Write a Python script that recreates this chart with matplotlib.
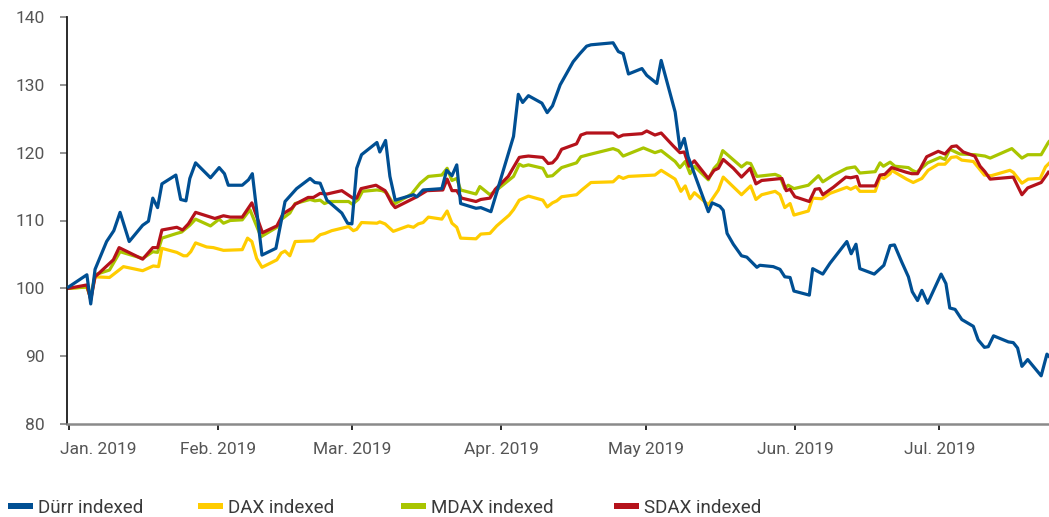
import numpy as np
import pandas as pd
import matplotlib
matplotlib.use("Agg")
import matplotlib.pyplot as plt
from matplotlib.patches import Rectangle
from matplotlib.transforms import ScaledTranslation

plt.rcParams['font.family'] = ['Roboto', 'DejaVu Sans']

# ---- data: days after 2019-01-01 and indexed values ----
durr_days = [0.0, 3.8, 4.6, 5.5, 7.9, 9.4, 10.7, 12.6, 15.4, 16.6, 17.5, 18.5, 19.4, 22.3, 23.3, 24.4, 25.2, 26.4,
             29.5, 31.3, 32.4, 33.2, 36.1, 37.4, 38.2, 40.2, 43.1, 45.0, 47.4, 50.2, 51.2, 52.3, 53.7, 56.8, 58.0,
             58.9, 59.9, 60.9, 64.1, 64.7, 65.9, 66.8, 67.9, 71.7, 72.4, 73.7, 77.6, 78.6, 79.7, 80.7, 81.5, 84.7,
             85.7, 87.8, 92.5, 93.5, 94.4, 95.6, 98.4, 99.5, 100.6, 102.2, 104.9, 106.3, 107.7, 108.6, 113.2, 114.3,
             115.3, 116.4, 119.2, 120.2, 122.3, 123.2, 126.1, 127.1, 128.0, 128.8, 133.0, 133.8, 135.4, 136.1,
             136.9, 138.2, 139.9, 141.0, 143.1, 143.7, 146.5, 147.9, 148.9, 150.0, 150.8, 154.0, 154.7, 156.8,
             158.3, 161.8, 162.7, 163.7, 164.5, 167.5, 169.5, 170.8, 171.7, 173.2, 174.6, 175.4, 176.5, 177.4,
             178.6, 181.4, 182.4, 183.2, 184.3, 185.7, 188.1, 189.1, 190.4, 191.2, 192.3, 195.4, 196.4, 197.3,
             198.2, 199.4, 202.2, 203.4, 203.8]
durr_vals = [100.2, 102.0, 97.7, 102.8, 106.9, 108.5, 111.2, 106.9, 109.3, 109.9, 113.3, 111.9, 115.4, 116.7, 113.1,
             112.9, 116.2, 118.5, 116.3, 117.8, 116.9, 115.2, 115.2, 116.0, 116.9, 104.9, 105.9, 112.8, 114.7, 116.2,
             115.6, 115.5, 113.0, 111.1, 109.6, 109.5, 117.7, 119.7, 121.5, 120.1, 121.8, 116.5, 113.0, 113.8, 113.5,
             114.5, 114.7, 117.4, 116.6, 118.2, 112.5, 111.8, 111.9, 111.3, 122.4, 128.6, 127.4, 128.4, 127.3, 125.9,
             126.9, 130.0, 133.4, 134.6, 135.7, 135.9, 136.2, 134.9, 134.6, 131.6, 132.4, 131.4, 130.2, 133.6, 126.0,
             120.6, 122.1, 119.4, 111.3, 112.6, 112.1, 111.5, 108.1, 106.5, 104.8, 104.6, 103.1, 103.4, 103.2, 102.8,
             101.7, 101.6, 99.6, 99.0, 102.9, 102.1, 103.7, 106.9, 105.1, 106.5, 102.9, 102.1, 103.4, 106.3, 106.4,
             103.9, 101.7, 99.5, 98.2, 99.7, 97.8, 102.1, 100.7, 97.1, 96.9, 95.4, 94.4, 92.4, 91.3, 91.4, 93.0,
             92.1, 92.0, 91.2, 88.5, 89.5, 87.1, 90.3, 90.0]

dax_days = [0.0, 3.8, 4.6, 5.5, 8.5, 11.4, 15.4, 17.6, 18.7, 19.4, 22.5, 23.9, 24.6, 25.4, 26.4, 28.7, 30.1, 32.2,
            36.1, 37.2, 38.1, 39.1, 40.2, 43.3, 44.2, 45.0, 46.0, 47.1, 50.9, 52.3, 53.3, 54.7, 58.2, 59.2, 59.9,
            60.9, 64.1, 64.7, 65.8, 67.5, 70.6, 71.7, 72.7, 73.7, 74.8, 77.6, 78.7, 79.7, 80.7, 81.5, 84.7, 85.7,
            87.6, 89.0, 91.6, 92.5, 93.7, 95.6, 98.6, 99.5, 100.6, 101.5, 102.5, 105.6, 106.7, 108.6, 113.2, 114.4,
            115.3, 116.4, 121.9, 123.2, 126.1, 127.3, 128.2, 129.2, 130.1, 133.0, 135.1, 136.1, 139.9, 141.8,
            142.9, 144.1, 146.9, 147.9, 148.9, 150.0, 150.8, 153.8, 154.7, 156.6, 158.3, 161.8, 162.6, 163.7,
            164.5, 167.7, 168.7, 169.5, 170.8, 171.1, 174.2, 175.6, 177.4, 178.7, 180.8, 182.2, 183.5, 184.6,
            185.7, 188.1, 190.4, 191.8, 195.7, 196.4, 198.2, 199.5, 202.0, 203.1, 203.8]
dax_vals = [100.0, 100.2, 98.8, 101.7, 101.6, 103.2, 102.6, 103.3, 103.2, 105.9, 105.3, 104.8, 104.8, 105.4, 106.7,
            106.1, 106.0, 105.6, 105.7, 107.4, 106.9, 104.4, 103.1, 104.2, 105.2, 105.5, 104.8, 106.9, 107.0, 107.9,
            108.1, 108.5, 109.1, 108.5, 108.7, 109.7, 109.6, 109.8, 109.5, 108.4, 109.2, 109.0, 109.5, 109.7, 110.5,
            110.2, 111.4, 109.6, 109.0, 107.4, 107.3, 108.0, 108.1, 109.2, 110.8, 111.6, 113.0, 113.6, 113.0, 112.0,
            112.6, 112.9, 113.5, 113.8, 114.5, 115.6, 115.7, 116.5, 116.2, 116.5, 116.7, 117.4, 116.1, 114.3, 115.1,
            113.2, 114.1, 112.3, 114.5, 116.4, 113.8, 115.1, 113.1, 113.8, 114.3, 113.8, 111.9, 112.5, 110.8, 111.4,
            113.3, 113.2, 114.0, 114.9, 114.6, 115.0, 114.3, 114.3, 116.4, 116.2, 116.9, 117.4, 116.1, 115.6, 116.2,
            117.4, 118.3, 118.3, 119.3, 119.4, 118.9, 118.7, 116.7, 116.6, 117.4, 117.1, 115.5, 116.1, 116.2, 117.9,
            118.4]

mdax_days = [0.0, 3.8, 4.6, 5.5, 8.5, 10.7, 15.4, 17.5, 18.5, 19.4, 22.5, 23.5, 25.2, 26.4, 29.5, 31.3, 32.2, 33.6,
             36.1, 37.7, 40.0, 43.3, 44.3, 46.0, 47.1, 50.2, 51.2, 52.3, 53.2, 54.3, 58.2, 59.0, 60.2, 61.1, 64.1,
             65.2, 66.1, 67.2, 67.9, 71.3, 73.1, 74.8, 77.6, 78.7, 79.7, 80.7, 81.5, 84.7, 85.5, 87.6, 89.0, 92.5,
             93.7, 94.5, 95.6, 98.6, 99.5, 100.6, 102.5, 105.6, 106.5, 108.1, 113.2, 114.3, 115.3, 119.5, 121.9,
             123.2, 126.1, 127.1, 128.2, 129.2, 130.1, 133.0, 134.2, 135.1, 136.0, 139.9, 141.0, 141.8, 143.1,
             146.9, 147.9, 148.9, 149.6, 150.8, 153.8, 155.9, 156.8, 159.0, 161.8, 163.5, 164.5, 167.7, 168.7,
             169.4, 170.8, 171.8, 174.6, 175.4, 176.3, 178.6, 181.2, 182.2, 183.2, 185.3, 188.4, 190.5, 191.6,
             196.1, 198.2, 199.4, 202.2, 203.6, 203.8]
mdax_vals = [100.0, 100.2, 98.5, 102.0, 102.7, 105.4, 104.4, 105.4, 105.3, 107.4, 108.1, 108.3, 109.3, 110.2, 109.2,
             110.2, 109.6, 110.0, 110.1, 111.6, 107.6, 109.0, 110.2, 111.1, 112.5, 113.1, 112.9, 113.0, 112.5, 112.8,
             112.8, 112.4, 113.1, 114.3, 114.5, 114.4, 114.1, 112.8, 112.5, 113.9, 115.5, 116.5, 116.7, 117.7, 115.9,
             116.2, 114.5, 113.9, 115.0, 113.8, 114.5, 116.5, 118.3, 118.0, 118.2, 117.7, 116.5, 116.6, 117.8, 118.5,
             119.4, 119.7, 120.6, 120.3, 119.5, 120.7, 120.0, 120.3, 118.7, 117.8, 118.7, 116.9, 118.0, 116.0, 117.7,
             118.4, 120.3, 117.9, 118.5, 118.4, 116.5, 116.8, 116.5, 114.7, 115.2, 114.7, 115.2, 116.6, 115.7, 116.7,
             117.7, 117.9, 117.0, 117.2, 118.5, 118.0, 118.6, 118.0, 117.8, 117.4, 117.1, 118.5, 119.3, 119.0, 120.5,
             119.8, 119.7, 119.5, 119.2, 120.6, 119.2, 119.7, 119.7, 121.4, 121.6]

sdax_days = [0.0, 3.8, 4.6, 5.5, 9.3, 10.5, 15.4, 17.5, 18.5, 19.4, 22.5, 23.7, 24.9, 26.4, 30.4, 32.2, 33.6, 36.1,
             38.1, 40.3, 43.3, 44.6, 46.4, 47.1, 49.8, 50.9, 52.3, 53.7, 56.8, 59.1, 59.9, 60.8, 63.9, 65.8, 67.2,
             67.9, 72.4, 74.5, 77.8, 78.7, 79.7, 80.7, 81.7, 84.7, 85.7, 87.6, 88.7, 91.4, 93.7, 94.5, 95.6, 98.6,
             99.7, 100.6, 101.5, 102.5, 105.6, 106.5, 107.7, 113.2, 114.3, 115.3, 119.2, 120.2, 121.9, 123.2, 125.7,
             127.1, 128.0, 129.0, 130.1, 133.0, 134.2, 135.1, 136.1, 138.2, 139.9, 141.7, 142.9, 144.1, 148.3,
             149.2, 150.0, 151.0, 154.0, 155.2, 156.1, 156.8, 159.0, 161.6, 162.6, 163.9, 164.5, 167.7, 168.7,
             169.7, 171.1, 174.2, 175.3, 176.5, 178.4, 180.8, 182.2, 183.6, 184.6, 186.0, 188.4, 189.5, 190.5,
             191.6, 196.4, 198.2, 199.4, 202.2, 203.7]
sdax_vals = [100.0, 100.5, 98.3, 101.7, 104.2, 106.0, 104.3, 106.0, 106.0, 108.6, 109.0, 108.6, 109.5, 111.2, 110.3,
             110.7, 110.5, 110.5, 112.6, 108.2, 109.2, 111.0, 111.8, 112.4, 113.4, 113.4, 114.0, 113.9, 114.4, 113.3,
             113.3, 114.7, 115.2, 114.4, 112.5, 111.9, 113.5, 114.4, 114.5, 116.1, 114.4, 114.4, 113.3, 112.8, 113.1,
             113.3, 114.6, 116.5, 119.3, 119.4, 119.5, 119.3, 118.4, 118.5, 119.2, 120.5, 121.3, 122.6, 122.9, 122.9,
             122.3, 122.6, 122.8, 123.2, 122.6, 122.9, 121.0, 120.0, 120.1, 118.0, 118.8, 116.2, 117.4, 117.7, 119.0,
             117.7, 116.4, 117.7, 115.4, 115.9, 116.2, 114.4, 114.6, 113.5, 112.8, 114.6, 114.7, 113.8, 114.9, 116.4,
             116.3, 116.5, 115.1, 115.1, 116.7, 116.8, 117.8, 117.1, 116.9, 116.9, 119.4, 120.2, 119.8, 120.9, 121.0,
             120.1, 119.5, 118.0, 117.2, 116.1, 116.4, 113.8, 114.8, 115.6, 117.1]

series_names = ["Dürr indexed", "DAX indexed", "MDAX indexed", "SDAX indexed"]
series_colors = ["#004f93", "#ffcc00", "#a9c500", "#b5121b"]
month_labels = ["Jan. 2019", "Feb. 2019", "Mar. 2019", "Apr. 2019", "May 2019", "Jun. 2019", "Jul. 2019"]
y_ticks = [80, 90, 100, 110, 120, 130, 140]

base = pd.Timestamp("2019-01-01")


def to_dates(days):
    return base + pd.to_timedelta(np.asarray(days), unit="D")


fig = plt.figure(figsize=(10.49, 5.17), dpi=100)
ax = fig.add_axes([67 / 1049, 1 - 424 / 517, 1 - 67 / 1049, (424 - 17) / 517])

all_series = [(durr_days, durr_vals), (dax_days, dax_vals), (mdax_days, mdax_vals), (sdax_days, sdax_vals)]
order = [1, 2, 3, 0]
for i in order:
    d, v = all_series[i]
    ax.plot(to_dates(d), v, color=series_colors[i], lw=2.3, solid_joinstyle="round", zorder=2 + (i == 0))

ax.set_ylim(80, 140)
ax.set_yticks(y_ticks)
ax.set_xlim(base - pd.Timedelta(hours=8), base + pd.Timedelta(days=203.83))
month_starts = pd.date_range("2019-01-01", periods=7, freq="MS")
ax.set_xticks(month_starts)
ax.set_xticklabels(month_labels)

for s in ["top", "right"]:
    ax.spines[s].set_visible(False)
ax.spines["left"].set_color("#1a1a1a")
ax.spines["left"].set_linewidth(1.3)
ax.spines["bottom"].set_color("#8a8a8a")
ax.spines["bottom"].set_linewidth(1.8)

ax.tick_params(axis="y", length=5, width=1.3, color="#8a8a8a", labelsize=12.5, labelcolor="#555555", pad=11)
ax.tick_params(axis="x", length=4, width=1.3, color="#1a1a1a", labelsize=12.5, labelcolor="#555555", pad=9)

# first x label sits to the right of its tick
lbl0 = ax.get_xticklabels()[0]
lbl0.set_horizontalalignment("left")
lbl0.set_transform(lbl0.get_transform() + ScaledTranslation(-9 / 100, 0, fig.dpi_scale_trans))

# legend drawn manually
leg_x = [8, 198, 401, 614]
for name, col, x0 in zip(series_names, series_colors, leg_x):
    fig.add_artist(Rectangle((x0 / 1049, 1 - 509 / 517), 25 / 1049, 6 / 517,
                             transform=fig.transFigure, facecolor=col, edgecolor="none"))
    fig.text((x0 + 30) / 1049, 1 - 508 / 517, name, fontsize=13.5, color="#3a3a3a",
             va="center", ha="left")

fig.savefig("out.png", dpi=100)
